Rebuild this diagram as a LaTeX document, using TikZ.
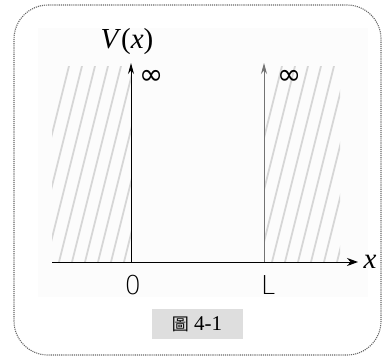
\documentclass[tikz,border=0pt]{standalone}
\usepackage{fontspec}
\setmainfont{Liberation Serif}
\newfontfamily\cjk{Noto Sans CJK TC}
\newfontfamily\tickfont{DejaVu Sans ExtraLight}
\newfontfamily\symfont{DejaVu Sans}
\usetikzlibrary{arrows.meta, positioning}

\begin{document}
\begin{tikzpicture}[
    x=1pt, y=-1pt,
    frame/.style={draw=black!60, densely dotted, line width=1.1pt,
                  rounded corners=34pt},
    panel/.style={fill=black!1, draw=none},
    hatch/.style={draw=black!16, line width=1.8pt},
    axis/.style={-{Stealth[length=11pt,width=8pt]}, line width=1pt},
    wall/.style={-{Stealth[length=11pt,width=6pt]}, line width=1pt},
    inf/.style={font=\symfont\fontsize{29}{29}\selectfont, inner sep=0pt},
    tick/.style={font=\tickfont\fontsize{26}{26}\selectfont, inner sep=0pt},
    varlbl/.style={font=\fontsize{29}{29}\selectfont},
    caption/.style={fill=black!13, minimum width=91pt, minimum height=30pt,
                    font=\fontsize{21}{21}\selectfont},
]
\useasboundingbox (0,0) rectangle (385,360);

% --- frame and panel ---
\draw[frame] (14,5) rectangle (381,355);
\fill[panel] (38,28) rectangle (368,297);

% --- hatched walls ---
\begin{scope}
  \clip (52,66) rectangle (131,262);
  \foreach \i in {0,...,9}
    \draw[hatch] (20+\i*13,262) -- ++(49,-196);
\end{scope}
\begin{scope}
  \clip (265,66) rectangle (340,262);
  \foreach \i in {0,...,9}
    \draw[hatch] (233+\i*13,262) -- ++(49,-196);
\end{scope}

% --- points ---
\coordinate (xstart) at (52,262);
\coordinate (xend)   at (358,262);
\coordinate (orig)   at (131,262);
\coordinate (otop)   at (131,63);
\coordinate (lpt)    at (264,262);
\coordinate (ltop)   at (264,63);

% --- axes ---
\draw[axis] (xstart) -- (xend);
\draw[wall] (orig) -- (otop);
\draw[wall, draw=black!55, fill=black!55] (lpt) -- (ltop);

% --- labels ---
\node[varlbl] (vx) at (127,42) {\textit{V}(\textit{x})};
\node[inf] (infl) at (152,77) {∞};
\node[inf] (infr) at (290,77) {∞};
\node[varlbl, right=2pt of xend] (xl) {\textit{x}};
\node[tick] (zero) at (133,285) {0};
\node[tick] (ell)  at (268,285) {L};

% --- caption ---
\node[caption] (cap) at (197,324) {{\cjk\fontsize{17}{17}\selectfont 圖}\ 4-1};

\end{tikzpicture}
\end{document}
